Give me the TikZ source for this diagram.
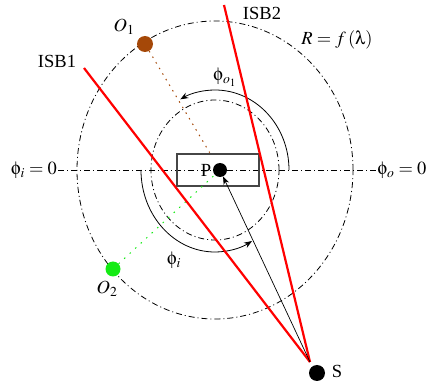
\documentclass[tikz,border=0pt]{standalone}
\usepackage{mathptmx}
\usepackage[no-math]{fontspec}
\setmainfont{Liberation Serif}
\usetikzlibrary{arrows.meta}
\DeclareSymbolFont{upsym}{U}{psy}{m}{n}
\DeclareMathSymbol{\uphi}{\mathord}{upsym}{`f}
\DeclareMathSymbol{\ulambda}{\mathord}{upsym}{`l}
\definecolor{obrown}{RGB}{165,72,8}
\definecolor{ogreen}{RGB}{20,235,20}
\definecolor{boxgray}{RGB}{70,70,70}
\begin{document}
\begin{tikzpicture}[x=1pt,y=-1pt,
  dd/.style={line width=0.8pt, dash pattern=on 6pt off 3pt on 1pt off 3pt},
  lbl/.style={inner sep=1pt, font=\fontsize{18.5}{21}\selectfont},
  isb/.style={red, line width=2.2pt},
  ball/.style={circle, inner sep=0pt, minimum size=15pt},
  ang/.style={line width=0.8pt, -{Stealth[length=8pt,width=6pt]}}
]
\useasboundingbox (0,0) rectangle (432,385);
\coordinate (c) at (215,170);
% circles
\draw[dd] (c) ellipse [x radius=138pt, y radius=149pt];
\draw[dd] (c) ellipse [x radius=64pt, y radius=70pt];
% horizontal axis with labels
\node[lbl] (li) at (34,170) {$\uphi_i=0$};
\node[lbl] (lo) at (402,170) {$\uphi_o=0$};
\draw[dd] (li.east) -- (lo.west);
% angle arcs
\draw[ang] ([xshift=74pt]c) arc[start angle=0, end angle=118, x radius=74pt, y radius=80pt];
\draw[ang] ([xshift=-74pt]c) arc[start angle=180, end angle=300, x radius=74pt, y radius=82pt];
% box and P
\node[draw=boxgray, line width=1.2pt, minimum width=82pt, minimum height=32pt, inner sep=0pt] (box) at (218,170) {};
\node[ball, fill=black, minimum size=14pt] (P) at (220,170) {};
\node[lbl] (Pl) at (206,170) {P};
% observers
\node[ball, fill=obrown, minimum size=16pt] (O1) at (145,44) {};
\node[ball, fill=ogreen] (O2) at (113,269) {};
\draw[obrown, line width=1pt, dash pattern=on 1.5pt off 5pt, shorten >=13pt] (O1) -- (P);
\draw[ogreen, line width=1pt, dash pattern=on 1.5pt off 6pt] (O2) -- (P);
% source and boundaries
\node[ball, fill=black, minimum size=16pt] (S) at (317,373) {};
\coordinate (s0) at (310,362);
\coordinate (i1) at (84,68);
\coordinate (i2) at (224,5);
\draw[isb] (i1) -- (s0);
\draw[isb] (i2) -- (s0);
\draw[line width=0.7pt, -{Stealth[length=8pt,width=6pt]}] (s0) -- (P);
% labels
\node[lbl] (lisb1) at (57,61) {ISB1};
\node[lbl] (lisb2) at (262,13) {ISB2};
\node[lbl] (lo1) at (124,27) {$O_1$};
\node[lbl] (lo2) at (107,289) {$O_2$};
\node[lbl] (lR) at (337,40) {$R=f\,(\ulambda)$};
\node[lbl] (lpo) at (225,77) {$\uphi_{o_1}$};
\node[lbl] (lpi) at (174,260) {$\uphi_i$};
\node[lbl] (lS) at (337,371) {S};
\end{tikzpicture}
\end{document}
